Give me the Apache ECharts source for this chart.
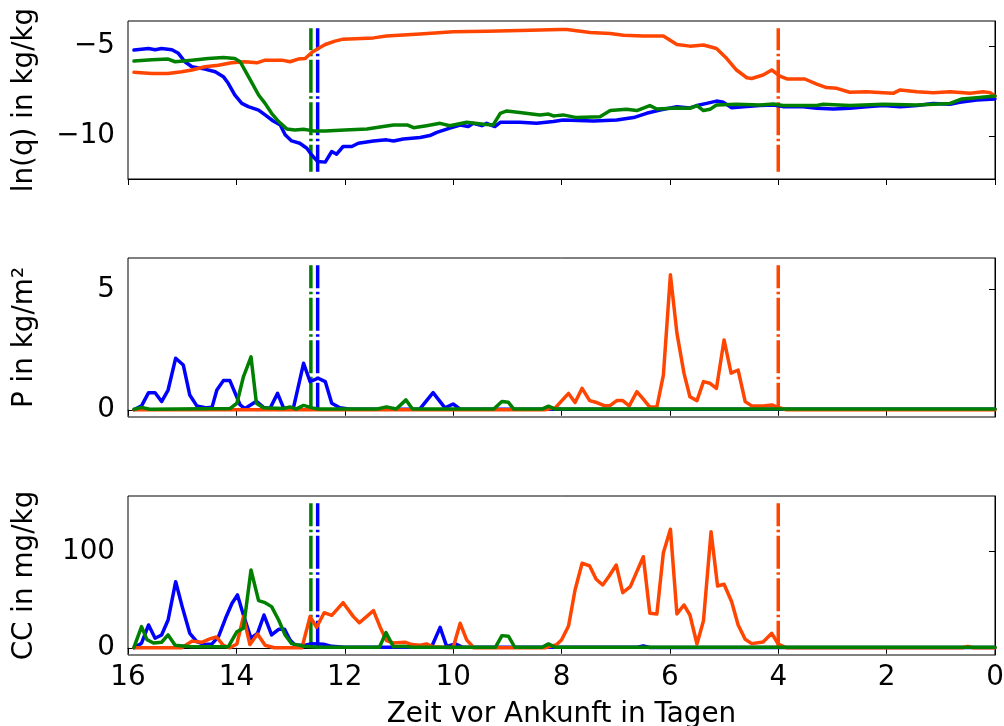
<!DOCTYPE html>
<html>
<head>
<meta charset="utf-8">
<script src="https://cdn.jsdelivr.net/npm/echarts@6/dist/echarts.min.js"></script>
<style>
  html, body { margin: 0; padding: 0; background: #fff; }
  #chart { width: 1004px; height: 726px; }
</style>
</head>
<body>
<div id="chart"></div>
<script>
// Three trajectories, values as [days before arrival, value]

// Specific humidity, ln(q) in kg/kg
const qBlue = [[15.89,-5.22],[15.62,-5.13],[15.5,-5.2],[15.38,-5.13],[15.19,-5.2],[15.07,-5.4],[14.95,-5.87],[14.82,-6.15],[14.58,-6.28],[14.39,-6.43],[14.24,-6.7],[14.15,-7.07],[14.03,-7.72],[13.9,-8.19],[13.78,-8.37],[13.59,-8.56],[13.47,-8.83],[13.32,-9.17],[13.19,-9.39],[13.1,-9.94],[12.98,-10.28],[12.83,-10.41],[12.7,-10.69],[12.61,-11.06],[12.5,-11.43],[12.36,-11.46],[12.24,-10.87],[12.15,-11.02],[12.03,-10.59],[11.87,-10.59],[11.75,-10.41],[11.47,-10.28],[11.23,-10.22],[11.1,-10.28],[10.92,-10.17],[10.61,-10.09],[10.43,-9.98],[10.3,-9.8],[10.06,-9.57],[9.87,-9.39],[9.72,-9.48],[9.63,-9.3],[9.47,-9.43],[9.38,-9.3],[9.23,-9.48],[9.13,-9.24],[8.77,-9.24],[8.46,-9.3],[8.15,-9.2],[7.97,-9.11],[7.41,-9.17],[6.98,-9.11],[6.67,-8.98],[6.43,-8.74],[6.18,-8.56],[5.87,-8.37],[5.63,-8.44],[5.5,-8.31],[5.32,-8.19],[5.14,-8.06],[5.01,-8.13],[4.86,-8.43],[4.64,-8.37],[4.34,-8.31],[4.09,-8.28],[3.91,-8.37],[3.54,-8.37],[3.29,-8.46],[2.98,-8.5],[2.68,-8.46],[2.37,-8.37],[2.06,-8.31],[1.75,-8.37],[1.44,-8.31],[1.14,-8.19],[0.83,-8.24],[0.65,-8.13],[0.34,-8.0],[0,-7.94]];
const qGreen = [[15.89,-5.83],[15.56,-5.76],[15.26,-5.72],[15.13,-5.87],[14.82,-5.78],[14.52,-5.69],[14.24,-5.63],[14.03,-5.69],[13.93,-5.87],[13.81,-6.52],[13.69,-7.17],[13.59,-7.72],[13.47,-8.19],[13.35,-8.74],[13.22,-9.2],[13.07,-9.61],[12.92,-9.67],[12.76,-9.63],[12.58,-9.72],[12.36,-9.72],[12.0,-9.67],[11.59,-9.61],[11.29,-9.48],[11.1,-9.39],[10.85,-9.39],[10.73,-9.54],[10.49,-9.43],[10.24,-9.3],[10.06,-9.43],[9.75,-9.24],[9.44,-9.35],[9.26,-9.39],[9.13,-8.74],[9.01,-8.61],[8.77,-8.69],[8.4,-8.83],[8.24,-8.78],[8.15,-8.89],[8.09,-8.87],[7.97,-8.83],[7.72,-8.98],[7.29,-8.93],[7.1,-8.59],[6.8,-8.52],[6.61,-8.59],[6.37,-8.31],[6.24,-8.5],[5.87,-8.44],[5.63,-8.46],[5.5,-8.31],[5.38,-8.59],[5.26,-8.52],[5.14,-8.28],[4.77,-8.24],[4.34,-8.28],[4.09,-8.22],[3.91,-8.31],[3.29,-8.31],[3.17,-8.24],[2.68,-8.31],[2.06,-8.24],[1.44,-8.28],[0.83,-8.19],[0.61,-7.94],[0.34,-7.87],[0,-7.78]];
const qOrange = [[15.89,-6.46],[15.56,-6.52],[15.26,-6.52],[15.01,-6.43],[14.82,-6.33],[14.58,-6.15],[14.33,-6.06],[14.09,-5.93],[13.84,-5.87],[13.62,-5.93],[13.47,-5.78],[13.16,-5.78],[13.01,-5.87],[12.86,-5.72],[12.73,-5.69],[12.61,-5.35],[12.49,-5.13],[12.36,-4.91],[12.18,-4.72],[12.03,-4.61],[11.47,-4.54],[11.23,-4.44],[10.61,-4.33],[10.0,-4.2],[9.38,-4.17],[8.77,-4.13],[8.03,-4.07],[7.9,-4.07],[7.47,-4.24],[7.1,-4.3],[6.86,-4.39],[6.49,-4.44],[6.12,-4.44],[5.87,-4.91],[5.63,-5.0],[5.38,-4.94],[5.14,-5.13],[4.95,-5.69],[4.77,-6.33],[4.58,-6.76],[4.49,-6.8],[4.28,-6.61],[4.12,-6.33],[3.97,-6.67],[3.84,-6.83],[3.51,-6.83],[3.29,-7.11],[3.11,-7.31],[2.92,-7.35],[2.68,-7.57],[2.37,-7.54],[2.06,-7.59],[1.88,-7.63],[1.75,-7.44],[1.44,-7.54],[1.14,-7.59],[0.83,-7.54],[0.46,-7.63],[0.22,-7.54],[0.09,-7.59],[0,-7.78]];

// Precipitation, P in kg/m²
const pBlue = [[15.89,0],[15.75,0.16],[15.62,0.71],[15.5,0.71],[15.38,0.34],[15.26,0.82],[15.12,2.14],[14.98,1.86],[14.86,0.61],[14.73,0.16],[14.55,0.08],[14.45,0.1],[14.36,0.82],[14.24,1.21],[14.12,1.21],[13.93,0.2],[13.84,0.05],[13.63,0.35],[13.5,0.1],[13.38,0.05],[13.24,0.68],[13.13,0.08],[12.95,0.05],[12.76,1.93],[12.64,1.17],[12.49,1.31],[12.36,1.17],[12.24,0.27],[12.09,0.08],[11.9,0.02],[10.62,0.02],[10.37,0.71],[10.15,0.08],[10.0,0.24],[9.87,0.03],[0,0.02]];
const pGreen = [[15.89,0.02],[15.75,0.1],[15.6,0.02],[14.12,0.05],[13.99,0.27],[13.87,1.37],[13.73,2.2],[13.63,0.27],[13.5,0.08],[13.13,0.05],[13.01,0.12],[12.9,0.03],[12.76,0.18],[12.6,0.08],[12.49,0.03],[11.4,0.03],[11.23,0.12],[11.05,0.03],[10.87,0.41],[10.75,0.03],[9.25,0.03],[9.1,0.34],[8.98,0.31],[8.88,0.03],[8.36,0.03],[8.24,0.15],[8.12,0.03],[0,0.03]];
const pOrange = [[15.89,0],[8.3,0],[8.21,0.05],[8.12,0.07],[7.87,0.68],[7.75,0.3],[7.62,0.89],[7.48,0.38],[7.35,0.3],[7.2,0.16],[7.1,0.18],[6.98,0.38],[6.87,0.38],[6.75,0.16],[6.61,0.75],[6.49,0.44],[6.37,0.11],[6.24,0.11],[6.12,1.44],[5.99,5.6],[5.87,3.18],[5.74,1.52],[5.63,0.54],[5.5,0.38],[5.38,1.17],[5.26,1.1],[5.14,0.89],[5.0,2.9],[4.87,1.52],[4.74,1.65],[4.61,0.34],[4.49,0.16],[4.28,0.16],[4.12,0.2],[4.0,0.1],[3.85,0],[0,0]];

// Cloud condensate, CC in mg/kg
const ccBlue = [[15.89,0],[15.75,4.7],[15.62,23.7],[15.5,9.9],[15.38,13.3],[15.26,28.8],[15.12,68.6],[15.0,42.7],[14.86,15],[14.73,6.3],[14.58,3.3],[14.45,4],[14.33,11.5],[14.2,30.6],[14.08,46.2],[13.98,54.8],[13.87,34],[13.73,9.9],[13.61,15],[13.49,34],[13.35,13.3],[13.22,19.2],[13.11,19.2],[13.01,8],[12.92,2.6],[12.73,2.6],[12.61,4.3],[12.39,3.6],[12.24,1.5],[12.0,0.5],[10.4,0.5],[10.24,21.2],[10.12,1.5],[9.96,4],[9.82,0.5],[6.6,0.5],[6.49,2],[6.37,0.3],[0,0.3]];
const ccGreen = [[15.89,0.5],[15.75,21.9],[15.65,8.4],[15.53,5],[15.38,5.7],[15.26,13.3],[15.13,2.6],[14.82,1],[14.15,1],[13.99,16.7],[13.87,20.2],[13.73,80.7],[13.59,48.9],[13.47,46.8],[13.35,42.7],[13.22,28.8],[13.1,13.3],[12.98,4.3],[12.75,1.5],[12.5,0.5],[11.36,0.5],[11.24,15.7],[11.1,1],[10.9,1.5],[10.75,0.5],[9.22,0.5],[9.1,12.6],[8.98,12],[8.86,0.5],[8.36,0.5],[8.24,4],[8.12,0.5],[0,0.5]];
const ccOrange = [[15.89,0],[15.01,0],[14.82,6.9],[14.64,5.7],[14.49,9.2],[14.37,11.2],[14.24,2.6],[14.12,0],[13.99,4],[13.87,32.3],[13.75,3.3],[13.61,14.3],[13.47,2.6],[13.3,0],[12.79,0],[12.64,32.3],[12.52,21.3],[12.38,36.4],[12.24,33.7],[12.03,46.8],[11.84,32.3],[11.73,26],[11.47,38.5],[11.35,21.9],[11.23,7.4],[11.1,5],[10.89,5.8],[10.76,3.3],[10.61,2.6],[10.49,4],[10.37,1],[10.0,0],[9.87,25.4],[9.75,8.2],[9.62,0],[8.3,0],[8.21,1.5],[8.09,3.3],[8.0,8.1],[7.87,22.6],[7.75,60],[7.62,87.7],[7.48,84.9],[7.36,71.1],[7.24,65.2],[7.12,74.5],[6.99,85.9],[6.87,57.2],[6.73,63.4],[6.61,79],[6.49,94.5],[6.37,35.8],[6.24,35.1],[6.12,98.7],[5.99,123],[5.87,35.1],[5.74,44.4],[5.63,34],[5.5,3.9],[5.38,28.1],[5.24,120.5],[5.12,64.1],[5.0,65.9],[4.86,47.8],[4.74,23.7],[4.61,8.8],[4.49,4.3],[4.28,5.9],[4.12,15],[4.0,3.9],[3.85,0],[0.6,0],[0.5,1.5],[0.4,0],[0,0]];

// Arrival markers (days before arrival) for each trajectory
const arrivalBlue = 12.5;
const arrivalGreen = 12.625;
const arrivalOrange = 4;

// Per panel: axis limits, tick values, marker extent and label
const yLimits = [[-12.4, -3.6], [-0.3, 6.3], [-7.5, 157.5]];
const yTicks = [[-10, -5], [0, 5], [0, 100]];
const markerSpan = [[-12, -4], [0, 6], [0, 150]];
const yNames = ['ln(q) in kg/kg', 'P in kg/m²', 'CC in mg/kg'];
const xName = 'Zeit vor Ankunft in Tagen';
const xLimits = [0, 16];
const xStep = 2;

const BLUE = '#0000ff', GREEN = '#008000', ORANGE = '#ff4500';
const FONT = 'DejaVu Sans';
const FS = 27.8;

const panels = [
  { blue: qBlue, green: qGreen, orange: qOrange },
  { blue: pBlue, green: pGreen, orange: pOrange },
  { blue: ccBlue, green: ccGreen, orange: ccOrange }
];
const gridTops = [21, 258, 496];
const gridHeights = [158, 159, 159];

const grid = [], xAxis = [], yAxis = [], series = [];
const minus = v => String(v).replace('-', '\u2212');

panels.forEach((p, i) => {
  grid.push({
    left: 128, width: 867, top: gridTops[i], height: gridHeights[i],
    outerBoundsMode: 'none', containLabel: false,
    show: true, borderColor: '#000', borderWidth: 1, backgroundColor: 'transparent'
  });
  xAxis.push({
    type: 'value', gridIndex: i, min: xLimits[0], max: xLimits[1], interval: xStep, inverse: true,
    axisLine: { show: true, lineStyle: { color: '#000', width: 1 } },
    axisTick: { show: true, length: 6, lineStyle: { color: '#000', width: 1 } },
    axisLabel: { show: i === 2, margin: 9, color: '#000', fontFamily: FONT, fontSize: FS },
    splitLine: { show: false },
    name: i === 2 ? xName : '',
    nameLocation: 'middle', nameGap: 46,
    nameTextStyle: { color: '#000', fontFamily: FONT, fontSize: FS }
  });
  yAxis.push({
    type: 'value', gridIndex: i, min: yLimits[i][0], max: yLimits[i][1],
    axisLine: { show: true, lineStyle: { color: '#000', width: 1 } },
    axisTick: { show: true, length: 6, customValues: yTicks[i], lineStyle: { color: '#000', width: 1 } },
    axisLabel: { show: true, margin: 13, customValues: yTicks[i], color: '#000', fontFamily: FONT, fontSize: FS, formatter: minus },
    splitLine: { show: false },
    name: yNames[i], nameLocation: 'middle', nameGap: 89, nameRotate: 90,
    nameTextStyle: { color: '#000', fontFamily: FONT, fontSize: FS }
  });

  // dash-dotted arrival markers
  [[arrivalGreen, GREEN], [arrivalBlue, BLUE], [arrivalOrange, ORANGE]].forEach(([d, c]) => {
    series.push({
      type: 'line', xAxisIndex: i, yAxisIndex: i, z: 1,
      data: [[d, markerSpan[i][0]], [d, markerSpan[i][1]]],
      showSymbol: false, symbol: 'none', silent: true, animation: false,
      lineStyle: { color: c, width: 3.5, type: [33, 3.5, 2.5, 3.5], dashOffset: 6, cap: 'butt' }
    });
  });

  [[p.blue, BLUE], [p.orange, ORANGE], [p.green, GREEN]].forEach(([data, c], k) => {
    series.push({
      type: 'line', xAxisIndex: i, yAxisIndex: i, z: 2 + k,
      data: data, showSymbol: false, symbol: 'none', silent: true, animation: false,
      lineStyle: { color: c, width: 3.5, join: 'round', cap: 'round' }
    });
  });
});

const chart = echarts.init(document.getElementById('chart'), null, { renderer: 'canvas' });
chart.setOption({
  backgroundColor: '#fff',
  animation: false,
  grid, xAxis, yAxis, series
});
</script>
</body>
</html>
